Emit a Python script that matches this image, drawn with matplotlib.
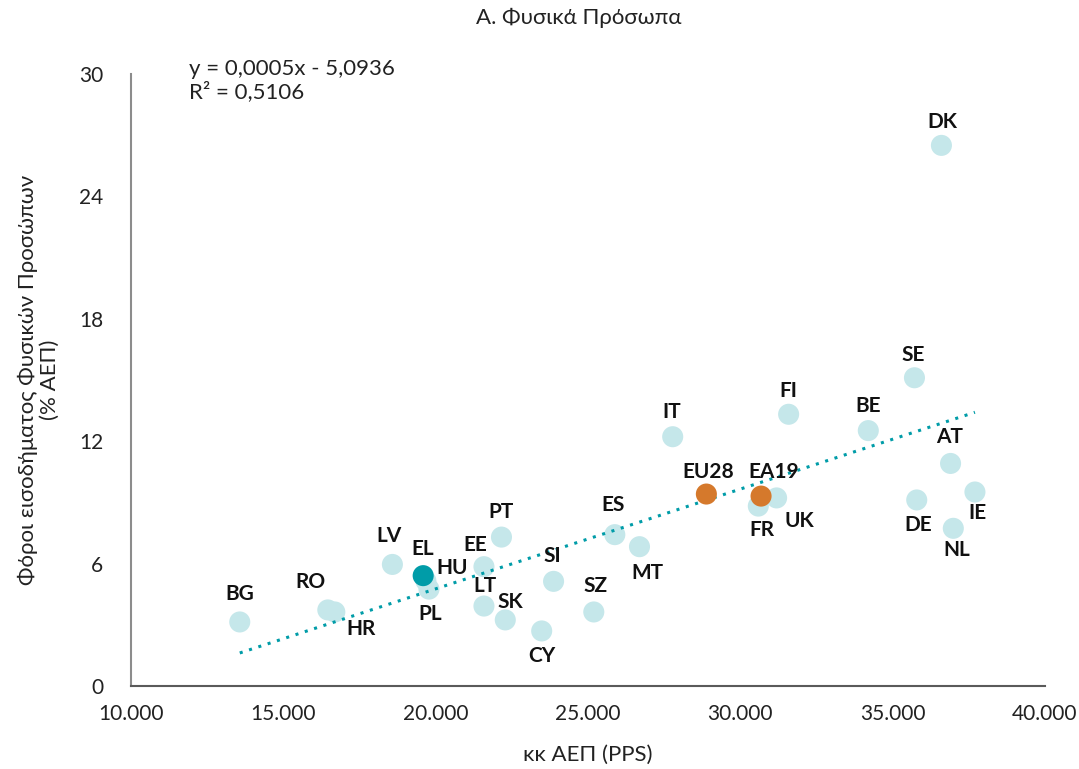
import numpy as np
import matplotlib
matplotlib.use("Agg")
import matplotlib.pyplot as plt
from matplotlib.ticker import FuncFormatter

plt.rcParams['font.family'] = ['Lato', 'Noto Sans', 'DejaVu Sans']

# data
countries = ["BG", "RO", "HR", "LV", "EL", "HU", "PL", "EE", "PT", "LT", "SK", "CY",
             "SI", "SZ", "ES", "MT", "IT", "EU28", "EA19", "FR", "UK", "FI", "BE",
             "AT", "DE", "IE", "NL", "SE", "DK"]
gdp_pc = [13570, 16460, 16690, 18580, 19590, 19680, 19780, 21585, 22160, 21585, 22285, 23480,
          23870, 25190, 25880, 26690, 27780, 28885, 30680, 30590, 31190, 31585, 34200,
          36900, 35790, 37700, 36990, 35715, 36600]
pit = [3.14, 3.73, 3.63, 5.96, 5.41, 5.15, 4.75, 5.85, 7.30, 3.92, 3.24, 2.70,
       5.13, 3.63, 7.42, 6.83, 12.22, 9.41, 9.31, 8.82, 9.22, 13.32, 12.52,
       10.91, 9.12, 9.51, 7.73, 15.11, 26.50]

# label offsets in pixels (dx, dy), dy positive = up
label_offsets = {
    "BG": (0, 28), "RO": (-17, 28), "HR": (26, -17), "LV": (-3, 28), "EL": (0, 27),
    "HU": (26, 13), "PL": (1, -25), "EE": (-9, 22), "PT": (0, 25), "LT": (1, 20),
    "SK": (5, 18), "CY": (0, -25), "SI": (-1, 25), "SZ": (2, 26), "ES": (-2, 30),
    "MT": (8, -26), "IT": (-1, 25), "EU28": (2, 22), "EA19": (13, 24), "FR": (4, -24),
    "UK": (23, -23), "FI": (0, 23), "BE": (0, 25), "AT": (-1, 26), "DE": (1, -25),
    "IE": (3, -21), "NL": (3, -22), "SE": (-1, 23), "DK": (1, 23),
}

light = "#c5e7ea"
teal = "#009ca8"
orange = "#d5792c"

fig = plt.figure(figsize=(10.79, 7.69), dpi=100)
ax = fig.add_axes([0.1214, 0.1079, 0.8471, 0.7959])

colors = []
for c in countries:
    if c == "EL":
        colors.append(teal)
    elif c in ("EU28", "EA19"):
        colors.append(orange)
    else:
        colors.append(light)

# light ones first so highlighted sit on top
order = [i for i, c in enumerate(colors) if c == light] + [i for i, c in enumerate(colors) if c != light]
for i in order:
    ax.scatter(gdp_pc[i], pit[i], s=230, color=colors[i], edgecolors="none", zorder=3 if colors[i] == light else 5)

for c, x, y in zip(countries, gdp_pc, pit):
    dx, dy = label_offsets[c]
    ax.annotate(c, (x, y), xytext=(dx, dy), textcoords="offset pixels",
                ha="center", va="center", fontsize=15, fontweight="bold",
                color="#111111", zorder=6)

# linear trendline
mask = [c not in ("EU28", "EA19") for c in countries]
xs = np.array(gdp_pc)[mask]
ys = np.array(pit)[mask]
k, b = np.polyfit(xs, ys, 1)
xl = np.array([xs.min(), xs.max()])
ax.plot(xl, k * xl + b, linestyle=(0, (1, 2.2)), color=teal, linewidth=2.2, zorder=4)

ax.text(0.063, 1.025, "y = 0,0005x - 5,0936\nR² = 0,5106", transform=ax.transAxes,
        fontsize=16, va="top", ha="left", linespacing=1.15, color="#222222")

ax.set_xlim(10000, 40000)
ax.set_ylim(0, 30)
ax.set_xticks(range(10000, 40001, 5000))
ax.set_yticks(range(0, 31, 6))
ax.xaxis.set_major_formatter(FuncFormatter(lambda v, p: f"{int(v):,}".replace(",", ".")))
ax.tick_params(length=0, labelsize=15, colors="#222222")
ax.tick_params(axis="y", pad=20)
ax.tick_params(axis="x", pad=13)

for s in ("top", "right"):
    ax.spines[s].set_visible(False)
ax.spines["left"].set_color("#8c8c8c")
ax.spines["left"].set_linewidth(1.5)
ax.spines["bottom"].set_color("#5a5a5a")
ax.spines["bottom"].set_linewidth(1.5)

ax.set_xlabel("κκ ΑΕΠ (PPS)", fontsize=16, color="#222222", labelpad=15)
ax.set_ylabel("Φόροι εισοδήματος Φυσικών Προσώπων\n(% ΑΕΠ)", fontsize=16, color="#222222",
              labelpad=14, linespacing=1.1)
fig.text(0.536, 0.977, "Α. Φυσικά Πρόσωπα", ha="center", va="center", fontsize=16, color="#222222")

fig.savefig("out.png", dpi=100)
